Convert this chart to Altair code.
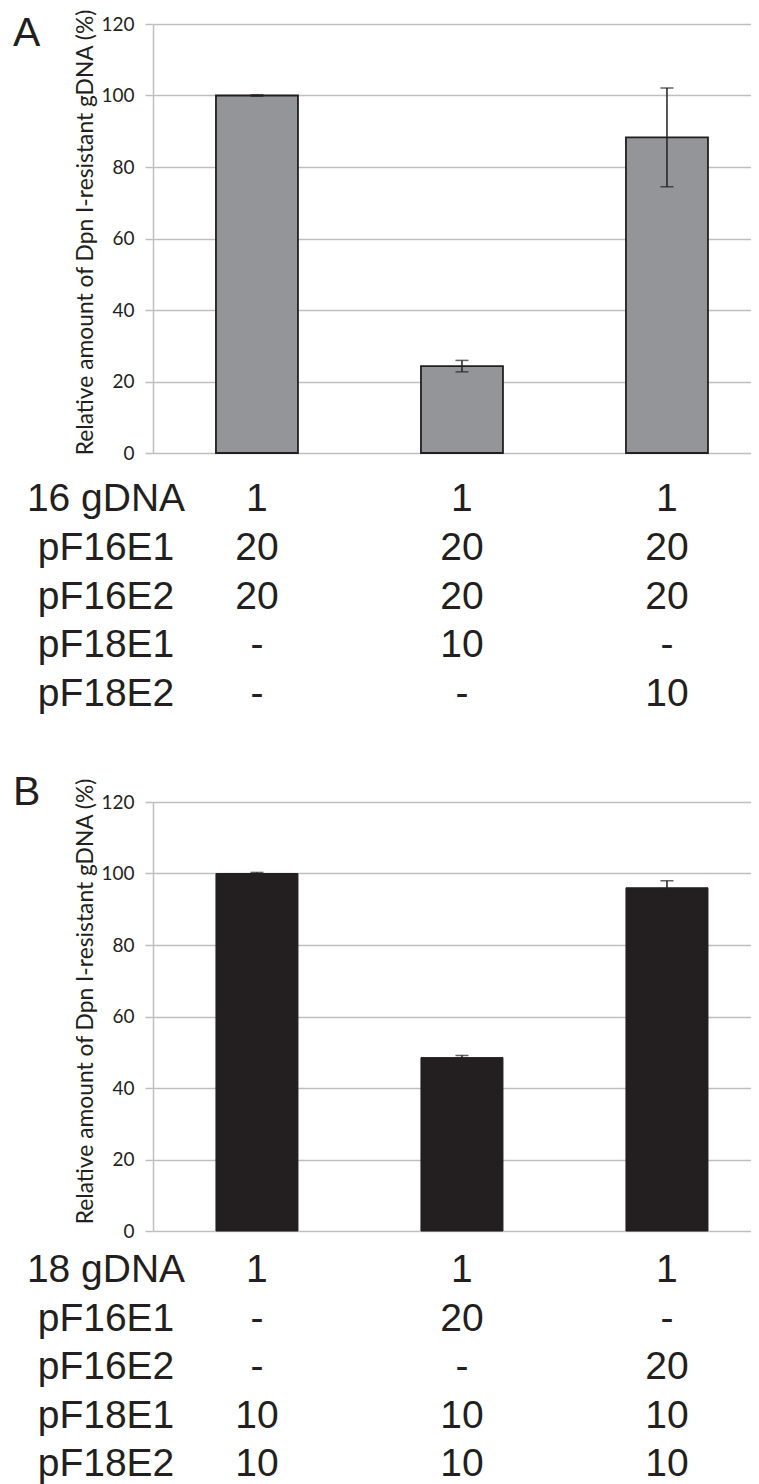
import altair as alt
import pandas as pd

# ---------------- data ----------------
conditions = ["c1", "c2", "c3"]

a_values = [100.0, 24.3, 88.3]
a_errors = [0.2, 1.6, 13.8]

b_values = [100.0, 48.5, 96.0]
b_errors = [0.3, 0.6, 2.0]

row_keys = [0, 1, 2, 3, 4]
a_row_labels = ["16 gDNA", "pF16E1", "pF16E2", "pF18E1", "pF18E2"]
b_row_labels = ["18 gDNA", "pF16E1", "pF16E2", "pF18E1", "pF18E2"]

a_table = [["1", "1", "1"],
           ["20", "20", "20"],
           ["20", "20", "20"],
           ["-", "10", "-"],
           ["-", "-", "10"]]
b_table = [["1", "1", "1"],
           ["-", "20", "-"],
           ["-", "-", "20"],
           ["10", "10", "10"],
           ["10", "10", "10"]]

y_ticks = [0, 20, 40, 60, 80, 100, 120]
y_title = "Relative amount of Dpn I-resistant gDNA (%)"

INK = "#231f20"
GRID = "#bfbfbf"
PLOT_W = 598
PLOT_H = 429


def panel(letter, values, errors, row_labels, table, fill, stroke, stroke_w,
          title_y, letter_y, table_range):
    bars_df = pd.DataFrame({
        "cond": conditions,
        "value": values,
        "lo": [v - e for v, e in zip(values, errors)],
        "hi": [v + e for v, e in zip(values, errors)],
    })
    tab_df = pd.DataFrame([
        {"row": r, "cond": c, "txt": table[r][j]}
        for r in row_keys for j, c in enumerate(conditions)
    ])
    lab_df = pd.DataFrame({"row": row_keys, "label": row_labels})
    let_df = pd.DataFrame({"letter": [letter]})

    x_enc = alt.X("cond:N", sort=conditions,
                  scale=alt.Scale(domain=conditions, paddingInner=0.6,
                                  paddingOuter=0.2585, align=0.594),
                  axis=None)
    y_scale = alt.Scale(domain=[0, 120], nice=False)

    bars = alt.Chart(bars_df).mark_bar(
        color=fill, stroke=stroke, strokeWidth=stroke_w
    ).encode(
        x=x_enc,
        y=alt.Y("value:Q", scale=y_scale,
                axis=alt.Axis(values=y_ticks, title=y_title,
                              grid=True, gridColor=GRID, gridWidth=1.5,
                              domainColor=GRID, domainWidth=1.5,
                              tickColor=GRID, tickWidth=1.5, tickSize=8,
                              labelFont="Lato", labelFontSize=19,
                              labelColor=INK, labelPadding=11,
                              titleFont="Lato", titleFontSize=22.8,
                              titleFontWeight="normal", titleColor=INK,
                              titleAngle=270, titleAlign="center",
                              titleBaseline="alphabetic",
                              titleX=-61, titleY=title_y)),
    )
    rule = alt.Chart(bars_df).mark_rule(color=INK, strokeWidth=1.5).encode(
        x=x_enc, y=alt.Y("lo:Q", scale=y_scale), y2="hi:Q")
    cap_lo = alt.Chart(bars_df).mark_tick(color=INK, thickness=1.5, size=13).encode(
        x=x_enc, y=alt.Y("lo:Q", scale=y_scale))
    cap_hi = alt.Chart(bars_df).mark_tick(color=INK, thickness=1.5, size=13).encode(
        x=x_enc, y=alt.Y("hi:Q", scale=y_scale))
    main = alt.layer(bars, rule, cap_lo, cap_hi)

    row_scale = alt.Scale(type="point", domain=row_keys, range=table_range, padding=0)
    vals = alt.Chart(tab_df).mark_text(
        font="Liberation Sans", fontSize=39, color=INK,
        align="center", baseline="alphabetic"
    ).encode(x=x_enc, y=alt.Y("row:O", scale=row_scale, axis=None), text="txt:N")
    labs = alt.Chart(lab_df).mark_text(
        font="Liberation Sans", fontSize=39, color=INK,
        align="center", baseline="alphabetic"
    ).encode(x=alt.value(-47), y=alt.Y("row:O", scale=row_scale, axis=None),
             text="label:N")
    let = alt.Chart(let_df).mark_text(
        font="Liberation Sans", fontSize=41, color=INK,
        align="left", baseline="alphabetic"
    ).encode(x=alt.value(-140), y=alt.value(letter_y), text="letter:N")
    tab = alt.layer(vals, labs, let)

    return alt.layer(main, tab).resolve_scale(y="independent").properties(
        width=PLOT_W, height=PLOT_H)


panel_a = panel("A", a_values, a_errors, a_row_labels, a_table,
                "#939598", INK, 1.8, 208, 21.5, [487, 682])
panel_b = panel("B", b_values, b_errors, b_row_labels, b_table,
                INK, INK, 1.0, 199, 3, [480, 674])

chart = alt.vconcat(panel_a, panel_b, spacing=58).resolve_scale(
    x="independent", y="independent"
).properties(
    padding={"left": 5, "top": 0, "right": 0, "bottom": 0},
    background="white",
).configure_view(strokeWidth=0)

chart.save("out.html", embed_options={"renderer": "svg", "actions": False})
